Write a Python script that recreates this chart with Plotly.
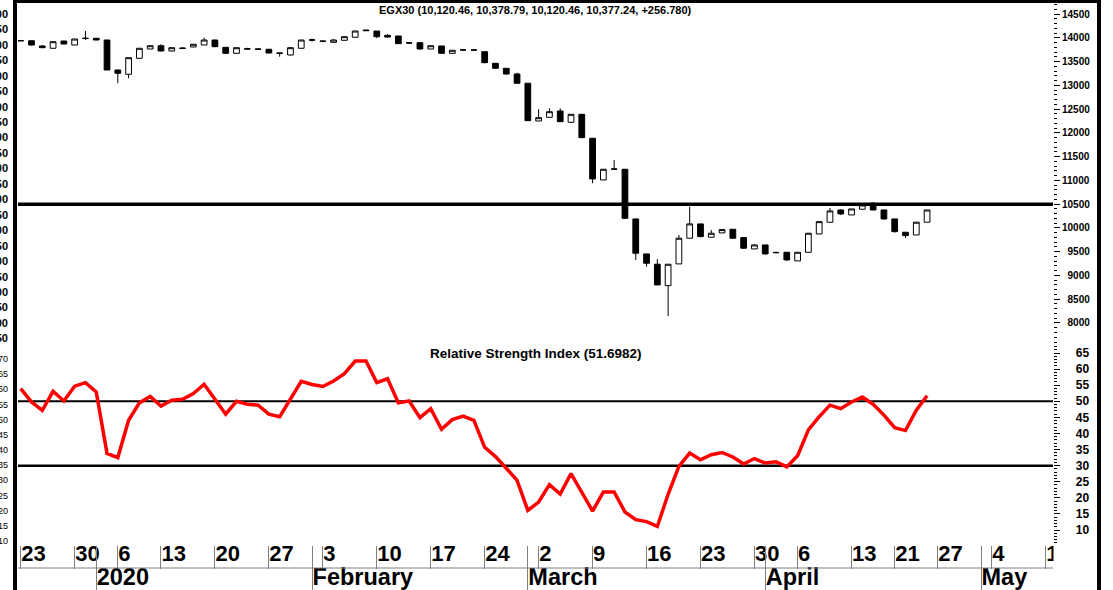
import plotly.graph_objects as go

# ---------------- data ----------------
dates = [
    "2019-12-23", "2019-12-24", "2019-12-25", "2019-12-26", "2019-12-29", "2019-12-30", "2019-12-31",
    "2020-01-02", "2020-01-05", "2020-01-06", "2020-01-08", "2020-01-09", "2020-01-12", "2020-01-13",
    "2020-01-14", "2020-01-15", "2020-01-16", "2020-01-19", "2020-01-20", "2020-01-21", "2020-01-22",
    "2020-01-23", "2020-01-26", "2020-01-27", "2020-01-28", "2020-01-29", "2020-01-30", "2020-02-02",
    "2020-02-03", "2020-02-04", "2020-02-05", "2020-02-06", "2020-02-09", "2020-02-10", "2020-02-11",
    "2020-02-12", "2020-02-13", "2020-02-16", "2020-02-17", "2020-02-18", "2020-02-19", "2020-02-20",
    "2020-02-23", "2020-02-24", "2020-02-25", "2020-02-26", "2020-02-27", "2020-03-01", "2020-03-02",
    "2020-03-03", "2020-03-04", "2020-03-05", "2020-03-08", "2020-03-09", "2020-03-10", "2020-03-11",
    "2020-03-12", "2020-03-15", "2020-03-16", "2020-03-17", "2020-03-18", "2020-03-19", "2020-03-22",
    "2020-03-23", "2020-03-24", "2020-03-25", "2020-03-26", "2020-03-29", "2020-03-30", "2020-04-01",
    "2020-04-02", "2020-04-05", "2020-04-06", "2020-04-07", "2020-04-08", "2020-04-09", "2020-04-12",
    "2020-04-13", "2020-04-14", "2020-04-15", "2020-04-16", "2020-04-21", "2020-04-22", "2020-04-23",
    "2020-04-26",
]
future_dates = ["2020-04-27", "2020-04-28", "2020-04-29", "2020-04-30", "2020-05-03", "2020-05-04",
                "2020-05-05", "2020-05-06", "2020-05-07", "2020-05-10", "2020-05-11"]

opens = [13935, 13938, 13827, 13779, 13932, 13848, 13985, 13989, 13953, 13322,
         13232, 13568, 13764, 13833, 13722, 13775, 13806, 13848, 13953, 13799,
         13673, 13770, 13764, 13758, 13680, 13638, 13779, 13950, 13925, 13904,
         13947, 14010, 14163, 14142, 14050, 14037, 13895, 13897, 13764, 13827,
         13673, 13743, 13745, 13707, 13463, 13358, 13238, 13043, 12250, 12327,
         12460, 12222, 12390, 11886, 11009, 11235, 11234, 10189, 9453, 9236,
         8786, 9243, 9783, 10084, 9804, 9895, 9972, 9796, 9558, 9642,
         9485, 9488, 9306, 9488, 9873, 10119, 10378, 10273, 10393, 10518,
         10378, 10189, 9909, 9852, 10120.46]
highs = [13950, 13940, 13848, 13918, 13935, 13974, 14142, 13995, 13953, 13330,
         13581, 13779, 13833, 13863, 13791, 13800, 13863, 14002, 13960, 13805,
         13791, 13790, 13780, 13765, 13685, 13791, 13953, 13985, 13945, 13975,
         14023, 14150, 14170, 14142, 14079, 14040, 13910, 13900, 13833, 13830,
         13737, 13765, 13765, 13710, 13465, 13360, 13266, 13043, 12496, 12517,
         12517, 12390, 12390, 11886, 11234, 11430, 11234, 10189, 9453, 9341,
         9236, 9852, 10448, 10084, 9957, 9972, 9972, 9796, 9660, 9642,
         9500, 9488, 9488, 9888, 10132, 10420, 10390, 10399, 10483, 10545,
         10378, 10189, 9909, 10125, 10378.79]
lows = [13930, 13833, 13780, 13779, 13865, 13848, 13953, 13950, 13322, 13043,
        13148, 13568, 13764, 13715, 13715, 13760, 13806, 13848, 13800, 13660,
        13673, 13750, 13745, 13670, 13602, 13630, 13779, 13920, 13905, 13904,
        13947, 14010, 14145, 13990, 14010, 13870, 13875, 13755, 13764, 13665,
        13668, 13728, 13728, 13465, 13350, 13220, 13043, 12250, 12250, 12327,
        12230, 12222, 11890, 10940, 11009, 11230, 10190, 9327, 9186, 8795,
        8149, 9243, 9783, 9805, 9804, 9895, 9770, 9560, 9558, 9440,
        9465, 9305, 9306, 9488, 9873, 10119, 10270, 10273, 10393, 10370,
        10170, 9900, 9790, 9852, 10120.46]
closes = [13940, 13847, 13792, 13918, 13869, 13974, 13989, 13953, 13322, 13253,
          13581, 13779, 13833, 13722, 13791, 13782, 13863, 13953, 13813, 13673,
          13791, 13764, 13760, 13680, 13673, 13791, 13953, 13955, 13930, 13953,
          14023, 14142, 14150, 14023, 14015, 13876, 13890, 13764, 13833, 13673,
          13737, 13745, 13742, 13476, 13358, 13238, 13043, 12256, 12319, 12445,
          12235, 12390, 11899, 11030, 11234, 11240, 10203, 9467, 9257, 8801,
          9236, 9783, 10084, 9817, 9888, 9965, 9783, 9573, 9642, 9453,
          9480, 9327, 9488, 9888, 10132, 10357, 10294, 10399, 10483, 10378,
          10189, 9922, 9838, 10120.46, 10377.24]
rsi = [53.9, 49.8, 47.2, 53.1, 50.1, 54.7, 55.8, 52.9, 33.8, 32.5,
       44.1, 49.5, 51.5, 48.5, 50.3, 50.6, 52.4, 55.3, 50.6, 46.0,
       50.0, 49.1, 48.8, 46.0, 45.2, 50.8, 56.2, 55.2, 54.6, 56.3,
       58.6, 62.5, 62.5, 55.8, 57.0, 49.5, 50.1, 44.9, 47.7, 41.3,
       44.3, 45.4, 44.1, 35.7, 32.8, 29.2, 25.4, 16.1, 18.7, 24.1,
       21.2, 27.5, 21.8, 15.9, 21.8, 21.8, 15.6, 13.2, 12.6, 11.1,
       21.1, 29.8, 33.9, 31.8, 33.4, 34.1, 32.7, 30.5, 32.2, 30.8,
       31.2, 29.6, 33.1, 41.1, 45.2, 48.8, 47.7, 49.8, 51.3, 49.1,
       45.7, 41.8, 40.9, 47.2, 51.7]

price_level = 10500
rsi_levels = [50, 30]

day_tick_dates = ["2019-12-23", "2019-12-30", "2020-01-06", "2020-01-13", "2020-01-20", "2020-01-27",
                  "2020-02-03", "2020-02-10", "2020-02-17", "2020-02-24", "2020-03-02", "2020-03-09",
                  "2020-03-16", "2020-03-23", "2020-03-30", "2020-04-06", "2020-04-13", "2020-04-21",
                  "2020-04-27", "2020-05-04", "2020-05-11"]
day_tick_text = ["23", "30", "6", "13", "20", "27", "3", "10", "17", "24", "2", "9",
                 "16", "23", "30", "6", "13", "21", "27", "4", "11"]
month_tick_dates = ["2020-01-02", "2020-02-02", "2020-03-01", "2020-04-01", "2020-05-03"]
month_tick_text = ["2020", "February", "March", "April", "May"]

price_ticks = list(range(8000, 14501, 500))
rsi_ticks = list(range(10, 66, 5))
left_price_ticks = list(range(9250, 14501, 250))
left_rsi_ticks = list(range(10, 71, 5))

price_title = "EGX30 (10,120.46, 10,378.79, 10,120.46, 10,377.24, +256.780)"
rsi_title = "Relative Strength Index (51.6982)"

# ---------------- layout helpers ----------------
W, H = 1113, 590
ML, MR, MT, MB = 18, 60, 3, 45
PW, PH = W - ML - MR, H - MT - MB
SPLIT_PX = 345  # pixel row separating price and RSI panels


def px_x(p):
    return (p - ML) / PW


def px_y(p):
    return (H - MB - p) / PH


FONT = "Liberation Sans, Arial, sans-serif"
FS = "\u2007"
all_dates = dates + future_dates
xrange_ = [-0.25, 95.67]
split = px_y(SPLIT_PX)

fig = go.Figure()

fig.add_trace(go.Candlestick(
    x=dates, open=opens, high=highs, low=lows, close=closes,
    xaxis="x", yaxis="y",
    increasing=dict(line=dict(color="black", width=1), fillcolor="white"),
    decreasing=dict(line=dict(color="black", width=1), fillcolor="black"),
    whiskerwidth=0, showlegend=False, hoverinfo="skip",
))
fig.add_trace(go.Scatter(
    x=dates, y=rsi, mode="lines", xaxis="x2", yaxis="y2",
    line=dict(color="#ff0000", width=3.5), showlegend=False, hoverinfo="skip",
))
# carrier traces for auxiliary axes
fig.add_trace(go.Scatter(x=[all_dates[0]], y=[None], xaxis="x3", yaxis="y2",
                         mode="lines", showlegend=False, hoverinfo="skip"))
fig.add_trace(go.Scatter(x=[all_dates[0]], y=[None], xaxis="x", yaxis="y3",
                         mode="lines", showlegend=False, hoverinfo="skip"))
fig.add_trace(go.Scatter(x=[all_dates[0]], y=[None], xaxis="x2", yaxis="y4",
                         mode="lines", showlegend=False, hoverinfo="skip"))

cat_axis = dict(type="category", categoryorder="array", categoryarray=all_dates,
                range=xrange_, showgrid=False, zeroline=False, showline=False,
                automargin=False, fixedrange=True)

fig.update_layout(
    width=W, height=H,
    margin=dict(l=ML, r=MR, t=MT, b=MB, pad=0),
    paper_bgcolor="white", plot_bgcolor="white",
    template="none",
    showlegend=False,
    boxgap=0.24,
    font=dict(family=FONT, color="black"),
    xaxis=dict(cat_axis, anchor="y", domain=[0, 1], showticklabels=False, ticks="",
               rangeslider=dict(visible=False)),
    xaxis2=dict(cat_axis, anchor="y2", domain=[0, 1],
                tickmode="array", tickvals=day_tick_dates, ticktext=day_tick_text,
                ticks="outside", ticklen=23, tickwidth=1, tickcolor="#808080",
                ticklabelposition="outside right", ticklabelstandoff=-11,
                tickfont=dict(family=FONT, size=22, color="black", weight="bold")),
    xaxis3=dict(cat_axis, anchor="y2", overlaying="x2", side="bottom",
                tickmode="array", tickvals=month_tick_dates, ticktext=month_tick_text,
                ticks="outside", ticklen=45, tickwidth=1, tickcolor="#808080",
                ticklabelposition="outside right", ticklabelstandoff=11,
                tickfont=dict(family=FONT, size=23.5, color="black", weight="bold")),
    yaxis=dict(domain=[split, 1], anchor="x", side="right",
               range=[7537, 14731.4], showgrid=False, zeroline=False, showline=False,
               automargin=False, fixedrange=True,
               tickmode="array", tickvals=price_ticks,
               ticktext=[f"{v:>5}".replace(" ", FS) for v in price_ticks],
               ticks="outside", ticklen=6, tickwidth=1, tickcolor="black",
               minor=dict(tickmode="linear", tick0=0, dtick=100, ticks="outside",
                          ticklen=3, tickwidth=1, tickcolor="black"),
               tickfont=dict(family=FONT, size=10, color="black", weight="bold")),
    yaxis2=dict(domain=[0, split], anchor="x2", side="right",
                range=[5.34, 67.49], showgrid=False, zeroline=False, showline=False,
                automargin=False, fixedrange=True,
                tickmode="array", tickvals=rsi_ticks,
                ticktext=[f"{v:>4}".replace(" ", FS) for v in rsi_ticks],
                ticks="outside", ticklen=6, tickwidth=1, tickcolor="black",
                minor=dict(tickmode="linear", tick0=0, dtick=1, ticks="outside",
                           ticklen=3, tickwidth=1, tickcolor="black"),
                tickfont=dict(family=FONT, size=12, color="black", weight="bold")),
    yaxis3=dict(overlaying="y", anchor="x", side="left",
                range=[9144, 14678], showgrid=False, zeroline=False, showline=False,
                automargin=False, fixedrange=True, ticks="",
                tickmode="array", tickvals=left_price_ticks,
                ticktext=[str(v) for v in left_price_ticks],
                ticklabelstandoff=9,
                tickfont=dict(family=FONT, size=11, color="black", weight="bold")),
    yaxis4=dict(overlaying="y2", anchor="x2", side="left",
                range=[8.68, 74.62], showgrid=False, zeroline=False, showline=False,
                automargin=False, fixedrange=True, ticks="",
                tickmode="array", tickvals=left_rsi_ticks,
                ticktext=[str(v) for v in left_rsi_ticks],
                ticklabelstandoff=9,
                tickfont=dict(family=FONT, size=9, color="black")),
)

shapes = []
# horizontal reference levels
shapes.append(dict(type="line", xref="x domain", x0=0, x1=1, yref="y",
                   y0=price_level, y1=price_level, layer="above",
                   line=dict(color="black", width=3.5)))
for lvl, wd in zip(rsi_levels, [2, 2.5]):
    shapes.append(dict(type="line", xref="x2 domain", x0=0, x1=1, yref="y2",
                       y0=lvl, y1=lvl, layer="below",
                       line=dict(color="black", width=wd)))
# axis separator between day row and month row
shapes.append(dict(type="line", xref="paper", x0=0, x1=1, yref="paper",
                   y0=px_y(568), y1=px_y(568), line=dict(color="#808080", width=1)))
# cover for labels beyond the plotting area
shapes.append(dict(type="rect", xref="paper", x0=px_x(1053.5), x1=px_x(1096), yref="paper",
                   y0=px_y(590), y1=px_y(545), fillcolor="white", line=dict(width=0),
                   layer="above"))
# frame
shapes.append(dict(type="line", xref="paper", x0=px_x(15), x1=px_x(15), yref="paper",
                   y0=px_y(592), y1=px_y(-2), line=dict(color="black", width=4)))
shapes.append(dict(type="line", xref="paper", x0=px_x(1099), x1=px_x(1099), yref="paper",
                   y0=px_y(592), y1=px_y(-2), line=dict(color="black", width=4)))
shapes.append(dict(type="line", xref="paper", x0=px_x(13), x1=px_x(1101), yref="paper",
                   y0=px_y(1.5), y1=px_y(1.5), line=dict(color="black", width=3)))
fig.update_layout(shapes=shapes)

fig.add_annotation(text=price_title, xref="paper", yref="paper", x=0.5, y=px_y(9.5),
                   xanchor="center", yanchor="middle", showarrow=False,
                   font=dict(family=FONT, size=11, color="black", weight="bold"))
fig.add_annotation(text=rsi_title, xref="paper", yref="paper", x=0.5, y=px_y(353),
                   xanchor="center", yanchor="middle", showarrow=False,
                   font=dict(family=FONT, size=13.5, color="black", weight="bold"))

fig.write_html(
    "out.html",
    config={"displayModeBar": False, "staticPlot": True},
    post_script="document.body.style.margin='0';document.body.style.overflow='hidden';",
)
